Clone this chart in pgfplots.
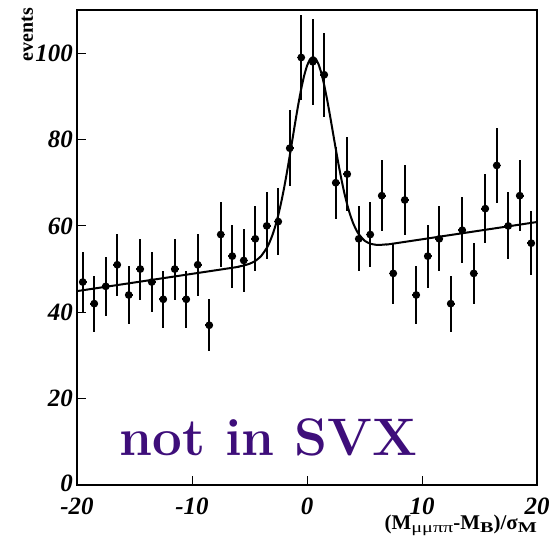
\documentclass[border=0pt]{standalone}
\usepackage{fontspec}
\usepackage{pgfplots}
\pgfplotsset{compat=1.18}
\usepackage{pgfplotstable}
\newfontfamily\rootfont{Liberation Serif}
\definecolor{svxpurple}{RGB}{62,14,122}

% candidates per bin (width 1), Poisson errors
\pgfplotstableread{
x y ex ey
-19.5 47 0.35 6.86
-18.5 42 0.35 6.48
-17.5 46 0.35 6.78
-16.5 51 0.35 7.14
-15.5 44 0.35 6.63
-14.5 50 0.35 7.07
-13.5 47 0.35 6.86
-12.5 43 0.35 6.56
-11.5 50 0.35 7.07
-10.5 43 0.35 6.56
-9.5 51 0.35 7.14
-8.5 37 0.35 6.08
-7.5 58 0.35 7.62
-6.5 53 0.35 7.28
-5.5 52 0.35 7.21
-4.5 57 0.35 7.55
-3.5 60 0.35 7.75
-2.5 61 0.35 7.81
-1.5 78 0.35 8.83
-0.5 99 0.35 9.95
0.5 98 0.35 9.90
1.5 95 0.35 9.75
2.5 70 0.35 8.37
3.5 72 0.35 8.49
4.5 57 0.35 7.55
5.5 58 0.35 7.62
6.5 67 0.35 8.19
7.5 49 0.35 7.00
8.5 66 0.35 8.12
9.5 44 0.35 6.63
10.5 53 0.35 7.28
11.5 57 0.35 7.55
12.5 42 0.35 6.48
13.5 59 0.35 7.68
14.5 49 0.35 7.00
15.5 64 0.35 8.00
16.5 74 0.35 8.60
17.5 60 0.35 7.75
18.5 67 0.35 8.19
19.5 56 0.35 7.48
}\datatable

% fitted signal + linear background
\pgfplotstableread{
x f
-20 44.90
-6.5 50.30
-6.0 50.55
-5.5 50.83
-5.0 51.23
-4.5 51.88
-4.0 52.99
-3.5 54.88
-3.25 56.23
-3.0 57.92
-2.75 60.00
-2.5 62.48
-2.25 65.38
-2.0 68.68
-1.75 72.33
-1.5 76.24
-1.25 80.30
-1.0 84.36
-0.75 88.24
-0.5 91.77
-0.25 94.77
0 97.06
0.25 98.53
0.5 99.10
0.75 98.73
1.0 97.46
1.25 95.37
1.5 92.57
1.75 89.24
2.0 85.56
2.25 81.70
2.5 77.84
2.75 74.13
3.0 70.68
3.25 67.58
3.5 64.88
3.75 62.60
4.0 60.72
4.25 59.23
4.5 58.08
5.0 56.59
5.5 55.88
6.0 55.63
6.5 55.63
7.0 55.75
7.5 55.90
20 60.90
}\fittable

\newcommand{\sub}[1]{\raisebox{-0.4ex}{\scalebox{1.35}[1]{\fontsize{15}{15}\selectfont #1}}}

\begin{document}
\begin{tikzpicture}
\begin{axis}[
  scale only axis,
  width=460bp, height=475bp,
  xmin=-20, xmax=20, ymin=0, ymax=110,
  axis line style={line width=1.2bp},
  xtick={-20,-10,0,10,20},
  xticklabels={-20,-10,0,10,20},
  ytick={0,20,40,60,80,100},
  yticklabels={\raisebox{4bp}{0},20,40,60,80,100},
  tick align=inside,
  xtick pos=bottom, ytick pos=left,
  major tick length=9bp,
  tick style={line width=1bp, black},
  ticklabel style={font=\rootfont\bfseries\itshape\fontsize{25}{25}\selectfont},
  xticklabel style={inner sep=0pt, yshift=-13bp},
  yticklabel style={inner sep=0pt, xshift=-4bp},
  clip=false,
]
\addplot[black, line width=2bp, smooth, tension=0.3] table[x=x, y=f] {\fittable};
\addplot[black, only marks, mark=*, mark size=3.2bp, line width=1.3bp,
  error bars/.cd, x dir=both, y dir=both, x explicit, y explicit,
  error mark=none,
  error bar style={line width=1.8bp}]
  table[x=x, y=y, x error=ex, y error=ey] {\datatable};

\node[anchor=base west, text=svxpurple, font=\fontsize{53}{53}\selectfont\bfseries]
  at (axis cs:-16.6,6.9) {not in SVX};
\node[anchor=base east, inner sep=0pt, font=\rootfont\bfseries\fontsize{21}{21}\selectfont]
  at ([yshift=-44bp]rel axis cs:1,0)
  {(M\sub{\mdseries μμππ}-M\sub{B})/σ\sub{M}};
\node[anchor=base east, inner sep=0pt, rotate=90, font=\rootfont\bfseries\fontsize{20}{20}\selectfont]
  at ([xshift=-44bp,yshift=2bp]rel axis cs:0,1) {events};
\end{axis}
\pgfresetboundingbox
\path ([xshift=-77bp,yshift=-70bp]current axis.south west) rectangle ++(555bp,555bp);
\end{tikzpicture}
\end{document}
